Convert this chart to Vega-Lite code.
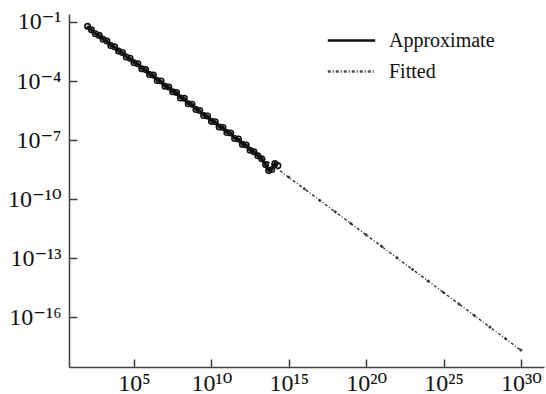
{
  "$schema": "https://vega.github.io/schema/vega-lite/v6.json",
  "autosize": {"type": "none"},
  "padding": {"left": 69, "top": 14, "right": 2, "bottom": 27},
  "width": 475,
  "height": 353,
  "background": "white",
  "config": {
    "view": {"stroke": null},
    "font": "Liberation Serif",
    "axis": {
      "grid": false,
      "domainColor": "#404040",
      "domainWidth": 1.5,
      "tickColor": "#404040",
      "tickWidth": 1.5,
      "tickSize": -8,
      "labelFont": "Liberation Serif, DejaVu Serif",
      "labelFontSize": 24,
      "labelColor": "#111",
      "title": null
    }
  },
  "datasets": {
    "approx": [
      {"series": "Approximate", "x": 100, "y": 6.026e-2},
      {"series": "Approximate", "x": 177.8, "y": 3.981e-2},
      {"series": "Approximate", "x": 316.2, "y": 2.512e-2},
      {"series": "Approximate", "x": 562.3, "y": 2.089e-2},
      {"series": "Approximate", "x": 1e3, "y": 1.318e-2},
      {"series": "Approximate", "x": 1.778e3, "y": 1.072e-2},
      {"series": "Approximate", "x": 3.162e3, "y": 6.310e-3},
      {"series": "Approximate", "x": 5.623e3, "y": 5.495e-3},
      {"series": "Approximate", "x": 1e4, "y": 3.311e-3},
      {"series": "Approximate", "x": 1.778e4, "y": 2.818e-3},
      {"series": "Approximate", "x": 3.162e4, "y": 1.660e-3},
      {"series": "Approximate", "x": 5.623e4, "y": 1.445e-3},
      {"series": "Approximate", "x": 1e5, "y": 8.511e-4},
      {"series": "Approximate", "x": 1.778e5, "y": 7.586e-4},
      {"series": "Approximate", "x": 3.162e5, "y": 4.169e-4},
      {"series": "Approximate", "x": 5.623e5, "y": 3.802e-4},
      {"series": "Approximate", "x": 1e6, "y": 2.138e-4},
      {"series": "Approximate", "x": 1.778e6, "y": 1.995e-4},
      {"series": "Approximate", "x": 3.162e6, "y": 1.072e-4},
      {"series": "Approximate", "x": 5.623e6, "y": 1e-4},
      {"series": "Approximate", "x": 1e7, "y": 5.370e-5},
      {"series": "Approximate", "x": 1.778e7, "y": 5.012e-5},
      {"series": "Approximate", "x": 3.162e7, "y": 2.818e-5},
      {"series": "Approximate", "x": 5.623e7, "y": 2.630e-5},
      {"series": "Approximate", "x": 1e8, "y": 1.380e-5},
      {"series": "Approximate", "x": 1.778e8, "y": 1.318e-5},
      {"series": "Approximate", "x": 3.162e8, "y": 6.918e-6},
      {"series": "Approximate", "x": 5.623e8, "y": 6.607e-6},
      {"series": "Approximate", "x": 1e9, "y": 3.548e-6},
      {"series": "Approximate", "x": 1.778e9, "y": 3.162e-6},
      {"series": "Approximate", "x": 3.162e9, "y": 1.778e-6},
      {"series": "Approximate", "x": 5.623e9, "y": 1.660e-6},
      {"series": "Approximate", "x": 1e10, "y": 8.913e-7},
      {"series": "Approximate", "x": 1.778e10, "y": 8.511e-7},
      {"series": "Approximate", "x": 3.162e10, "y": 4.571e-7},
      {"series": "Approximate", "x": 5.623e10, "y": 4.365e-7},
      {"series": "Approximate", "x": 1e11, "y": 2.399e-7},
      {"series": "Approximate", "x": 1.778e11, "y": 2.291e-7},
      {"series": "Approximate", "x": 3.162e11, "y": 1.202e-7},
      {"series": "Approximate", "x": 5.623e11, "y": 1.122e-7},
      {"series": "Approximate", "x": 1e12, "y": 6.026e-8},
      {"series": "Approximate", "x": 1.778e12, "y": 5.623e-8},
      {"series": "Approximate", "x": 3.162e12, "y": 3.020e-8},
      {"series": "Approximate", "x": 5.623e12, "y": 2.512e-8},
      {"series": "Approximate", "x": 1e13, "y": 1.585e-8},
      {"series": "Approximate", "x": 1.778e13, "y": 1.122e-8},
      {"series": "Approximate", "x": 3.162e13, "y": 5.623e-9},
      {"series": "Approximate", "x": 5.012e13, "y": 2.818e-9},
      {"series": "Approximate", "x": 7.943e13, "y": 3.162e-9},
      {"series": "Approximate", "x": 1.259e14, "y": 6.310e-9},
      {"series": "Approximate", "x": 1.995e14, "y": 5.012e-9}
    ],
    "fitted": [
      {"series": "Fitted", "x": 1e2, "y": 5.333e-2},
      {"series": "Fitted", "x": 1e3, "y": 1.384e-2},
      {"series": "Fitted", "x": 1e4, "y": 3.581e-3},
      {"series": "Fitted", "x": 1e5, "y": 9.290e-4},
      {"series": "Fitted", "x": 1e6, "y": 2.410e-4},
      {"series": "Fitted", "x": 1e7, "y": 6.252e-5},
      {"series": "Fitted", "x": 1e8, "y": 1.622e-5},
      {"series": "Fitted", "x": 1e9, "y": 4.207e-6},
      {"series": "Fitted", "x": 1e10, "y": 1.091e-6},
      {"series": "Fitted", "x": 1e11, "y": 2.831e-7},
      {"series": "Fitted", "x": 1e12, "y": 7.345e-8},
      {"series": "Fitted", "x": 1e13, "y": 1.905e-8},
      {"series": "Fitted", "x": 1e14, "y": 4.943e-9},
      {"series": "Fitted", "x": 1e15, "y": 1.282e-9},
      {"series": "Fitted", "x": 1e16, "y": 3.327e-10},
      {"series": "Fitted", "x": 1e17, "y": 8.630e-11},
      {"series": "Fitted", "x": 1e18, "y": 2.239e-11},
      {"series": "Fitted", "x": 1e19, "y": 5.808e-12},
      {"series": "Fitted", "x": 1e20, "y": 1.507e-12},
      {"series": "Fitted", "x": 1e21, "y": 3.908e-13},
      {"series": "Fitted", "x": 1e22, "y": 1.014e-13},
      {"series": "Fitted", "x": 1e23, "y": 2.630e-14},
      {"series": "Fitted", "x": 1e24, "y": 6.823e-15},
      {"series": "Fitted", "x": 1e25, "y": 1.770e-15},
      {"series": "Fitted", "x": 1e26, "y": 4.592e-16},
      {"series": "Fitted", "x": 1e27, "y": 1.191e-16},
      {"series": "Fitted", "x": 1e28, "y": 3.090e-17},
      {"series": "Fitted", "x": 1e29, "y": 8.017e-18},
      {"series": "Fitted", "x": 1e30, "y": 2.080e-18}
    ]
  },
  "encoding": {
    "x": {
      "field": "x", "type": "quantitative",
      "scale": {"type": "log", "domain": [6.3, 3.1e31], "nice": false},
      "axis": {
        "values": [1e5, 1e10, 1e15, 1e20, 1e25, 1e30],
        "labelPadding": 12,
        "labelExpr": "'10' + (round(log(datum.value)/LN10) == 5 ? '⁵' : round(log(datum.value)/LN10) == 10 ? '¹⁰' : round(log(datum.value)/LN10) == 15 ? '¹⁵' : round(log(datum.value)/LN10) == 20 ? '²⁰' : round(log(datum.value)/LN10) == 25 ? '²⁵' : '³⁰')"
      }
    },
    "y": {
      "field": "y", "type": "quantitative",
      "scale": {"type": "log", "domain": [2.9e-19, 0.255], "nice": false},
      "axis": {
        "values": [1e-1, 1e-4, 1e-7, 1e-10, 1e-13, 1e-16],
        "labelPadding": 16,
        "labelExpr": "'10' + (round(log(datum.value)/LN10) == -1 ? '⁻¹' : round(log(datum.value)/LN10) == -4 ? '⁻⁴' : round(log(datum.value)/LN10) == -7 ? '⁻⁷' : round(log(datum.value)/LN10) == -10 ? '⁻¹⁰' : round(log(datum.value)/LN10) == -13 ? '⁻¹³' : '⁻¹⁶')"
      }
    }
  },
  "layer": [
    {
      "data": {"name": "fitted"},
      "mark": {"type": "line", "strokeDash": [3, 2, 1, 2], "strokeWidth": 1.4, "color": "#333"},
      "encoding": {}
    },
    {
      "data": {"name": "fitted"},
      "mark": {"type": "point", "shape": "cross", "size": 10, "filled": true, "color": "#333", "opacity": 1},
      "encoding": {}
    },
    {
      "data": {"name": "approx"},
      "mark": {"type": "line", "strokeWidth": 3, "color": "#111"},
      "encoding": {}
    },
    {
      "data": {"name": "approx"},
      "mark": {"type": "point", "shape": "circle", "size": 30, "filled": false, "strokeWidth": 1.6, "color": "#111", "opacity": 1},
      "encoding": {}
    },
    {
      "data": {"values": [{"series": "Approximate"}, {"series": "Fitted"}]},
      "mark": {"type": "line", "opacity": 0},
      "encoding": {
        "x": {"datum": 1e10},
        "y": {"datum": 1e-10},
        "color": {
          "field": "series", "type": "nominal",
          "scale": {"domain": ["Approximate", "Fitted"], "range": ["#111", "#555"]},
          "legend": {
            "orient": "none", "legendX": 265, "legendY": 9, "title": null,
            "symbolType": "M-1.5,0H1.5", "symbolSize": 1000, "symbolOpacity": 1,
            "symbolFillColor": "transparent",
            "symbolStrokeWidth": 2.5,
            "labelFont": "Liberation Serif", "labelFontSize": 20, "labelColor": "#111",
            "labelOffset": 20, "rowPadding": 3
          }
        },
        "strokeDash": {
          "field": "series", "type": "nominal",
          "scale": {"domain": ["Approximate", "Fitted"], "range": [[1, 0], [3, 2, 1, 2]]},
          "legend": null
        }
      }
    }
  ]
}
